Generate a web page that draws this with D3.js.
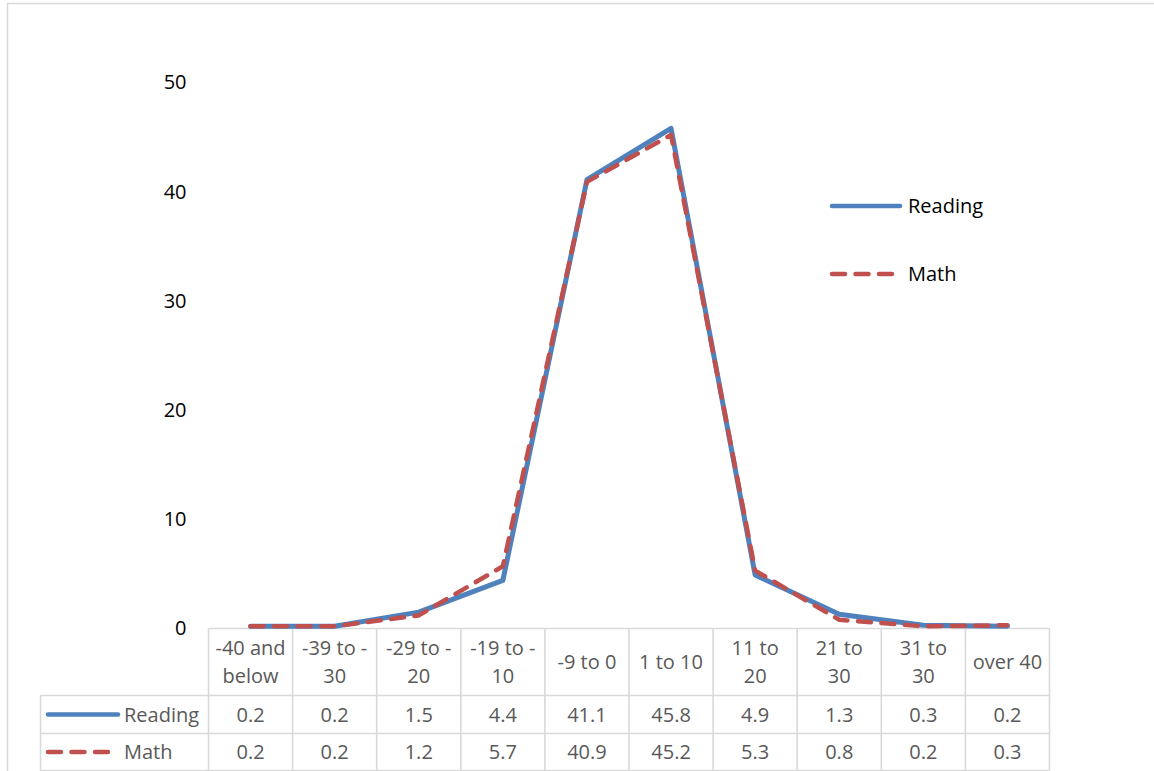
<!DOCTYPE html>
<html>
<head>
<meta charset="utf-8">
<script src="https://cdn.jsdelivr.net/npm/d3@7"></script>
<style>
  html, body { margin: 0; padding: 0; background: #fff; }
  svg { display: block; font-family: "Open Sans", Carlito, Calibri, sans-serif; }
</style>
</head>
<body>
<svg id="chart" width="1154" height="771"></svg>
<script>
// Score-change bands and the share of students in each band
const categories = [
  ["-40 and", "below"], ["-39 to -", "30"], ["-29 to -", "20"], ["-19 to -", "10"],
  ["-9 to 0"], ["1 to 10"], ["11 to", "20"], ["21 to", "30"], ["31 to", "30"], ["over 40"]
];
const readingValues = [0.2, 0.2, 1.5, 4.4, 41.1, 45.8, 4.9, 1.3, 0.3, 0.2];
const mathValues    = [0.2, 0.2, 1.2, 5.7, 40.9, 45.2, 5.3, 0.8, 0.2, 0.3];
const yTicks = [0, 10, 20, 30, 40, 50];

const series = [
  { name: "Reading", values: readingValues, color: "#4F81BD", dash: null },
  { name: "Math",    values: mathValues,    color: "#C0504D", dash: "13 10.5" }
];

const svg = d3.select("#chart");
const W = 1154, H = 771;
const plotLeft = 208.5, plotRight = 1049.5;
const tableLeft = 40.5;
const headerTop = 628.5, headerBottom = 695.5, row1Bottom = 733.5, row2Bottom = 770.5;
const gridColor = "#D9D9D9";
const fontSize = 20;

// outer chart frame
svg.append("rect")
  .attr("x", 7.5).attr("y", 3.5)
  .attr("width", W + 20).attr("height", H + 20)
  .attr("fill", "#fff").attr("stroke", gridColor).attr("stroke-width", 1.5);

const keys = categories.map((c, i) => "c" + i);
const x = d3.scaleBand().domain(keys).range([plotLeft, plotRight]);
const y = d3.scaleLinear().domain([0, 50]).range([628.5, 82.5]);

// value axis labels
const yAxis = svg.append("g")
  .attr("transform", `translate(${plotLeft},0)`)
  .call(d3.axisLeft(y).tickValues(yTicks).tickSize(0).tickPadding(22).tickFormat(d3.format("d")));
yAxis.select(".domain").remove();
yAxis.selectAll("text")
  .attr("font-size", fontSize).attr("fill", "#000")
  .attr("font-family", "'Open Sans', Carlito, Calibri, sans-serif");

// data table grid
const tbl = svg.append("g").attr("stroke", gridColor).attr("stroke-width", 1.6).attr("fill", "none");
tbl.append("line").attr("x1", plotLeft).attr("x2", plotRight).attr("y1", headerTop).attr("y2", headerTop);
[headerBottom, row1Bottom, row2Bottom].forEach(yy =>
  tbl.append("line").attr("x1", tableLeft).attr("x2", plotRight).attr("y1", yy).attr("y2", yy));
tbl.append("line").attr("x1", tableLeft).attr("x2", tableLeft).attr("y1", headerBottom).attr("y2", row2Bottom);
keys.concat(["end"]).forEach((k, i) => {
  const xx = i < keys.length ? x(k) : plotRight;
  tbl.append("line").attr("x1", xx).attr("x2", xx).attr("y1", headerTop).attr("y2", row2Bottom);
});

// category headers
const tableColor = "#595959";
categories.forEach((lines, i) => {
  const cx = x(keys[i]) + x.bandwidth() / 2;
  const mid = (headerTop + headerBottom) / 2;
  const lh = 28;
  const t = svg.append("text")
    .attr("x", cx).attr("text-anchor", "middle")
    .attr("font-size", fontSize).attr("fill", tableColor);
  lines.forEach((ln, j) => {
    t.append("tspan").attr("x", cx)
      .attr("y", mid + (j - (lines.length - 1) / 2) * lh)
      .attr("dy", "0.35em").text(ln);
  });
});

// value rows with series keys
const rowMids = [(headerBottom + row1Bottom) / 2, (row1Bottom + row2Bottom) / 2];
series.forEach((s, si) => {
  const ym = rowMids[si];
  svg.append("line")
    .attr("x1", 48).attr("x2", si === 0 ? 118 : 110).attr("y1", ym).attr("y2", ym)
    .attr("stroke", s.color).attr("stroke-width", 4.5).attr("stroke-linecap", "round")
    .attr("stroke-dasharray", s.dash);
  svg.append("text").attr("x", 124).attr("y", ym).attr("dy", "0.35em")
    .attr("font-size", fontSize).attr("fill", tableColor).text(s.name);
  s.values.forEach((v, i) => {
    svg.append("text")
      .attr("x", x(keys[i]) + x.bandwidth() / 2).attr("y", ym).attr("dy", "0.35em")
      .attr("text-anchor", "middle").attr("font-size", fontSize).attr("fill", tableColor)
      .text(d3.format(".1f")(v));
  });
});

// series lines
const line = d3.line()
  .x((d, i) => x(keys[i]) + x.bandwidth() / 2)
  .y(d => y(d));
series.forEach(s => {
  svg.append("path")
    .datum(s.values)
    .attr("d", line)
    .attr("fill", "none")
    .attr("stroke", s.color)
    .attr("stroke-width", s.dash ? 4.5 : 5)
    .attr("stroke-linejoin", "round")
    .attr("stroke-linecap", "round")
    .attr("stroke-dasharray", s.dash);
});

// legend
const legendY = [206, 274];
series.forEach((s, si) => {
  svg.append("line")
    .attr("x1", 832).attr("x2", si === 0 ? 900 : 894)
    .attr("y1", legendY[si]).attr("y2", legendY[si])
    .attr("stroke", s.color).attr("stroke-width", 4.5).attr("stroke-linecap", "round")
    .attr("stroke-dasharray", s.dash);
  svg.append("text").attr("x", 908).attr("y", legendY[si]).attr("dy", "0.35em")
    .attr("font-size", fontSize).attr("fill", "#000").text(s.name);
});
</script>
</body>
</html>
